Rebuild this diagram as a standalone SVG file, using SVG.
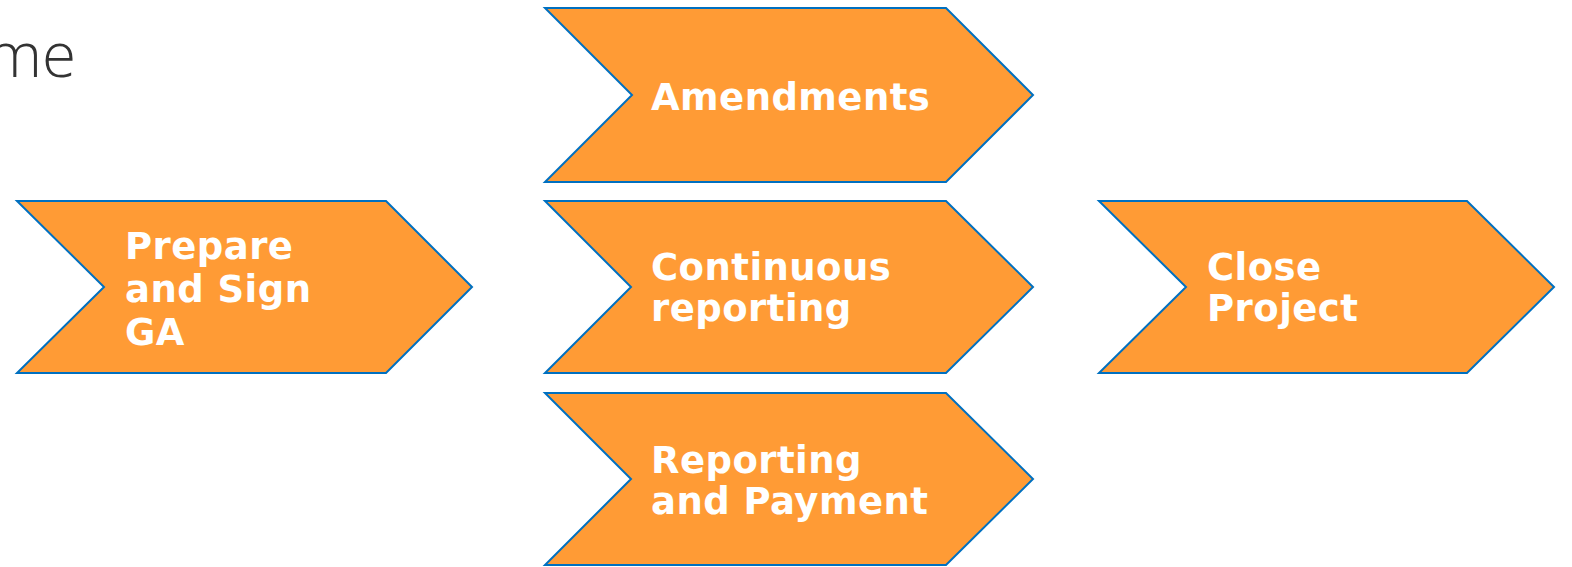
<svg xmlns="http://www.w3.org/2000/svg" width="1572" height="567" viewBox="0 0 1572 567">
<style>
.chev{fill:#FF9B35;stroke:#0070C0;stroke-width:2}
.lbl{font-family:"DejaVu Sans",Verdana,sans-serif;font-weight:bold;font-size:37px;letter-spacing:0.45px;fill:#FFFFFF}
.title{font-family:"Open Sans","Noto Sans",sans-serif;font-weight:300;font-size:62px;fill:#333333}
</style>
<rect width="1572" height="567" fill="#FFFFFF"/>
<text class="title" x="76" y="77" text-anchor="end">me</text>
<g id="connectors"></g>
<g id="prepare">
<polygon class="chev" points="17,201 386,201 472,287 386,373 17,373 104,287"/>
<text class="lbl"><tspan x="125" y="259">Prepare</tspan><tspan x="125" y="302">and Sign</tspan><tspan x="125" y="345">GA</tspan></text>
</g>
<g id="amendments">
<polygon class="chev" points="545,8 946,8 1033,95 946,182 545,182 632,95"/>
<text class="lbl" x="651" y="110">Amendments</text>
</g>
<g id="continuous">
<polygon class="chev" points="545,201 946,201 1033,287 946,373 545,373 631,287"/>
<text class="lbl"><tspan x="651" y="280">Continuous</tspan><tspan x="651" y="321">reporting</tspan></text>
</g>
<g id="reporting">
<polygon class="chev" points="545,393 946,393 1033,479 946,565 545,565 631,479"/>
<text class="lbl"><tspan x="651" y="473">Reporting</tspan><tspan x="651" y="514">and Payment</tspan></text>
</g>
<g id="close">
<polygon class="chev" points="1099,201 1467,201 1554,287 1467,373 1099,373 1186,287"/>
<text class="lbl"><tspan x="1207" y="280">Close</tspan><tspan x="1207" y="321">Project</tspan></text>
</g>
</svg>
